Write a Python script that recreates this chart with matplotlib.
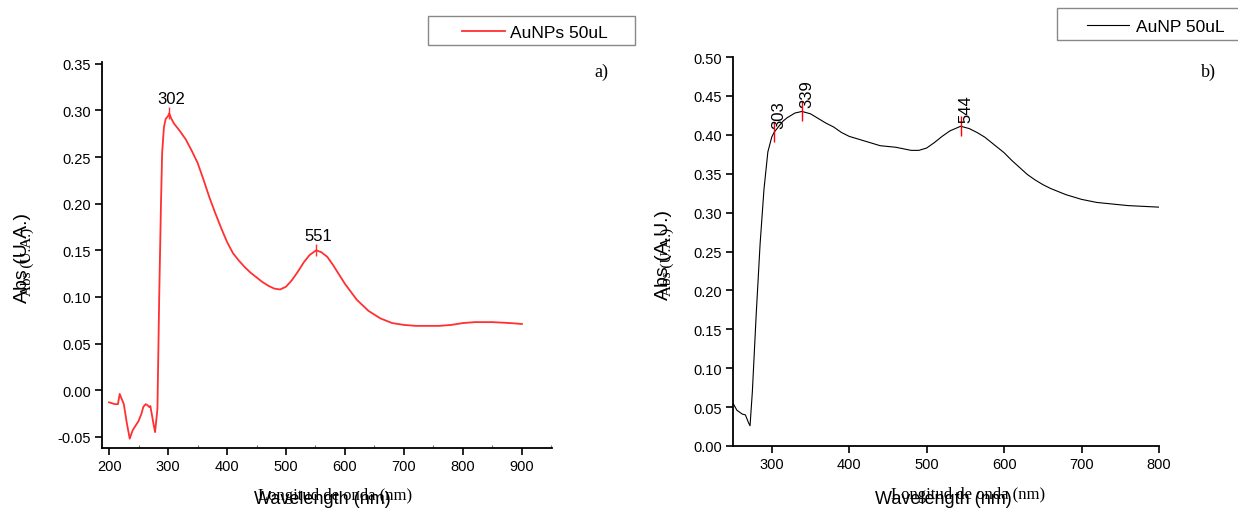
import numpy as np
import matplotlib
matplotlib.use("Agg")
import matplotlib.pyplot as plt
from matplotlib.patches import Rectangle

# ---------------- data ----------------
wl_a = [200, 210, 215, 218, 225, 230, 235, 240, 245, 250, 255, 258, 262, 265, 268, 270,
        275, 278, 282, 285, 288, 290, 293, 296, 300, 302, 305, 310, 320, 330, 340, 350,
        360, 370, 380, 390, 400, 410, 420, 430, 440, 450, 460, 470, 480, 490, 500, 510,
        520, 530, 540, 551, 560, 570, 580, 590, 600, 620, 640, 660, 680, 700, 720, 740,
        760, 780, 800, 820, 850, 880, 900]
abs_a = [-0.013, -0.015, -0.015, -0.004, -0.015, -0.035, -0.052, -0.043, -0.038, -0.033,
         -0.025, -0.018, -0.015, -0.016, -0.018, -0.017, -0.035, -0.045, -0.020, 0.100,
         0.200, 0.255, 0.282, 0.291, 0.294, 0.297, 0.292, 0.286, 0.278, 0.269, 0.257,
         0.244, 0.226, 0.207, 0.190, 0.174, 0.159, 0.147, 0.139, 0.132, 0.126, 0.121,
         0.116, 0.112, 0.109, 0.108, 0.111, 0.118, 0.127, 0.137, 0.145, 0.150, 0.148,
         0.143, 0.134, 0.124, 0.114, 0.097, 0.085, 0.077, 0.072, 0.070, 0.069, 0.069,
         0.069, 0.070, 0.072, 0.073, 0.073, 0.072, 0.071]
peaks_a = [302, 551]

wl_b = [250, 255, 262, 266, 270, 272, 275, 280, 285, 290, 295, 300, 303, 310, 315, 320,
        330, 339, 350, 360, 370, 380, 390, 400, 410, 420, 430, 440, 450, 460, 470, 480,
        490, 500, 510, 520, 530, 544, 555, 565, 575, 585, 595, 600, 610, 620, 630, 640,
        650, 660, 670, 680, 690, 700, 720, 740, 760, 780, 800]
abs_b = [0.055, 0.046, 0.041, 0.040, 0.030, 0.026, 0.070, 0.170, 0.260, 0.330, 0.378,
         0.397, 0.403, 0.412, 0.418, 0.422, 0.428, 0.430, 0.427, 0.421, 0.415, 0.410,
         0.403, 0.398, 0.395, 0.392, 0.389, 0.386, 0.385, 0.384, 0.382, 0.380, 0.380,
         0.383, 0.390, 0.398, 0.405, 0.411, 0.408, 0.403, 0.397, 0.389, 0.381, 0.377,
         0.367, 0.358, 0.349, 0.342, 0.336, 0.331, 0.327, 0.323, 0.320, 0.317, 0.313,
         0.311, 0.309, 0.308, 0.307]
peaks_b = [303, 339, 544]

xticks_a = [200, 300, 400, 500, 600, 700, 800, 900]
yticks_a = [-0.05, 0.00, 0.05, 0.10, 0.15, 0.20, 0.25, 0.30, 0.35]
xticks_b = [300, 400, 500, 600, 700, 800]
yticks_b = [0.00, 0.05, 0.10, 0.15, 0.20, 0.25, 0.30, 0.35, 0.40, 0.45, 0.50]

# ---------------- figure ----------------
W, H = 1238, 510
fig = plt.figure(figsize=(W / 100, H / 100), dpi=100)
plt.rcParams['font.family'] = ['Liberation Sans', 'DejaVu Sans']

def fx(px):
    return px / W

def fy(py):
    return 1 - py / H

def box(l, t, r, b):
    return [fx(l), fy(b), fx(r) - fx(l), fy(t) - fy(b)]

ax1 = fig.add_axes(box(102, 63, 552, 449))
ax2 = fig.add_axes(box(733, 58, 1159, 447))

red = '#ff3030'
l1, = ax1.plot(wl_a, abs_a, color=red, lw=1.3, label='AuNPs 50uL')
l2, = ax2.plot(wl_b, abs_b, color='black', lw=0.8, label='AuNP 50uL')

for ax in (ax1, ax2):
    for s in ('top', 'right'):
        ax.spines[s].set_visible(False)
    for s in ('left', 'bottom'):
        ax.spines[s].set_linewidth(1.3)
    ax.tick_params(direction='out', length=5, width=1.2, labelsize=10.5, pad=3)

ax1.set_xlim(188, 951)
ax1.set_ylim(-0.062, 0.352)
ax1.set_xticks(xticks_a)
ax1.set_yticks(yticks_a)
ax1.set_yticklabels([f'{v:.2f}' for v in yticks_a])
ax1.set_xticks(np.arange(250, 951, 100), minor=True)
ax1.tick_params(axis='x', which='minor', direction='in', length=2, width=0.8, color='#777777')

ax2.set_xlim(250, 800)
ax2.set_ylim(0, 0.5)
ax2.set_xticks(xticks_b)
ax2.set_yticks(yticks_b)
ax2.set_yticklabels([f'{v:.2f}' for v in yticks_b])

# peak markers
for p in peaks_a:
    yv = np.interp(p, wl_a, abs_a)
    ax1.plot([p], [yv], marker='|', color=red, ms=8, mew=1.0)
    ax1.annotate(str(p), (p, yv), xytext=(1.5, 5), textcoords='offset points',
                 ha='center', va='bottom', fontsize=12)
for p in peaks_b:
    yv = np.interp(p, wl_b, abs_b)
    ax2.plot([p], [yv], marker='|', color='red', ms=14, mew=1.0)
    ax2.annotate(str(p), (p, yv), xytext=(3.5, 3), textcoords='offset points',
                 ha='center', va='bottom', rotation=90, fontsize=12)

# legends (boxes drawn in figure pixels)
fig.patches.append(Rectangle((fx(428), fy(46)), fx(635) - fx(428), fy(17) - fy(46),
                             transform=fig.transFigure, fill=False,
                             edgecolor='#888888', lw=1.0))
fig.patches.append(Rectangle((fx(1057), fy(41)), fx(1243) - fx(1057), fy(9) - fy(41),
                             transform=fig.transFigure, fill=False,
                             edgecolor='#888888', lw=1.0))
fig.legend(handles=[l1], loc='center left', bbox_to_anchor=(fx(462), fy(33)),
           frameon=False, borderpad=0, borderaxespad=0, handlelength=2.45,
           handletextpad=0.3, fontsize=12.5)
fig.legend(handles=[l2], loc='center left', bbox_to_anchor=(fx(1087), fy(27)),
           frameon=False, borderpad=0, borderaxespad=0, handlelength=2.4,
           handletextpad=0.4, fontsize=12.5)

# overlapped axis labels (as in the reference)
serif = ['Liberation Serif', 'DejaVu Serif']
fig.text(fx(322), fy(500), 'Wavelength (nm)', ha='center', va='center', fontsize=13)
fig.text(fx(335), fy(496), 'Longitud de onda (nm)', ha='center', va='center',
         fontsize=12, family=serif)
fig.text(fx(943), fy(500), 'Wavelength (nm)', ha='center', va='center', fontsize=13)
fig.text(fx(968), fy(495), 'Longitud de onda (nm)', ha='center', va='center',
         fontsize=12, family=serif)

fig.text(fx(23), fy(258), 'Abs (U.A.)', ha='center', va='center', rotation=90, fontsize=14)
fig.text(fx(27), fy(262), 'Abs (U.A.)', ha='center', va='center', rotation=90,
         fontsize=11, family=serif)
fig.text(fx(663), fy(255), 'Abs (A.U.)', ha='center', va='center', rotation=90, fontsize=14)
fig.text(fx(667), fy(262), 'Abs (U.A.)', ha='center', va='center', rotation=90,
         fontsize=11, family=serif)

# panel letters
fig.text(fx(601), fy(72), 'a)', ha='center', va='center', fontsize=13, family=serif)
fig.text(fx(1208), fy(72), 'b)', ha='center', va='center', fontsize=13, family=serif)

fig.savefig('out.png', dpi=100)
